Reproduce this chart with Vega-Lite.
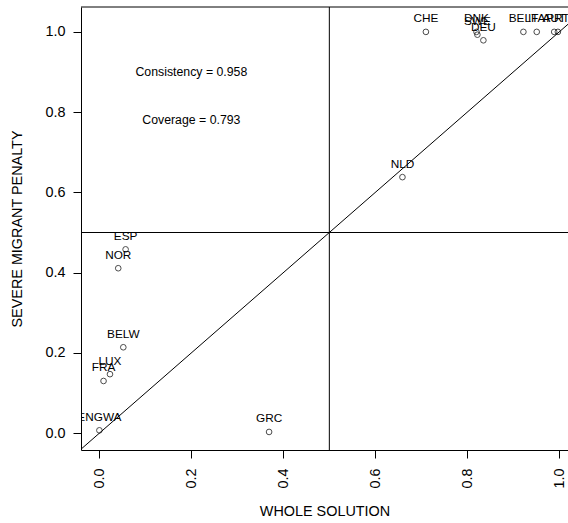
{
  "$schema": "https://vega.github.io/schema/vega-lite/v6.json",
  "width": 487,
  "height": 443,
  "autosize": {"type": "none"},
  "padding": {"left": 81, "top": 7, "right": 0, "bottom": 73},
  "background": "white",
  "config": {
    "view": {"stroke": null},
    "font": "Liberation Sans",
    "axis": {
      "grid": false,
      "domainColor": "black",
      "tickColor": "black",
      "tickSize": 8,
      "labelFont": "Liberation Sans",
      "labelFontSize": 14.4,
      "labelColor": "black",
      "titleFont": "Liberation Sans",
      "titleFontSize": 14.4,
      "titleFontWeight": "normal",
      "titleColor": "black",
      "labelOverlap": false,
      "labelFlush": false
    }
  },
  "datasets": {
    "cases": [
      {"case": "CHE", "x": 0.71, "y": 1.0},
      {"case": "DNK", "x": 0.820, "y": 1.0},
      {"case": "SWE", "x": 0.822, "y": 0.993},
      {"case": "DEU", "x": 0.835, "y": 0.979},
      {"case": "BELF", "x": 0.922, "y": 1.0},
      {"case": "ITA", "x": 0.951, "y": 1.0},
      {"case": "AUT", "x": 0.989, "y": 1.0},
      {"case": "PRT", "x": 0.997, "y": 1.0},
      {"case": "NLD", "x": 0.659, "y": 0.638},
      {"case": "ESP", "x": 0.057, "y": 0.458},
      {"case": "NOR", "x": 0.041, "y": 0.411},
      {"case": "BELW", "x": 0.052, "y": 0.214},
      {"case": "LUX", "x": 0.023, "y": 0.147},
      {"case": "FRA", "x": 0.009, "y": 0.130},
      {"case": "ENGWA", "x": 0.0, "y": 0.007},
      {"case": "GRC", "x": 0.369, "y": 0.003}
    ],
    "diag": [
      {"x": -0.04, "y": -0.04},
      {"x": 1.02, "y": 1.02}
    ],
    "notes": [
      {"x": 0.2, "y": 0.901, "label": "Consistency = 0.958"},
      {"x": 0.2, "y": 0.781, "label": "Coverage = 0.793"}
    ]
  },
  "layer": [
    {
      "data": {"name": "cases"},
      "mark": {"type": "point", "shape": "circle", "filled": false, "size": 32, "strokeWidth": 1, "color": "black", "clip": true},
      "encoding": {
        "x": {
          "field": "x", "type": "quantitative",
          "scale": {"domain": [-0.04, 1.019], "nice": false, "zero": false},
          "axis": {"title": "WHOLE SOLUTION", "values": [0, 0.2, 0.4, 0.6, 0.8, 1.0], "format": ".1f", "labelAngle": 270, "labelPadding": 10, "titlePadding": 16}
        },
        "y": {
          "field": "y", "type": "quantitative",
          "scale": {"domain": [-0.042, 1.062], "nice": false, "zero": false},
          "axis": {"title": "SEVERE MIGRANT PENALTY", "values": [0, 0.2, 0.4, 0.6, 0.8, 1.0], "format": ".1f", "labelAngle": 0, "labelPadding": 8, "titlePadding": 20}
        }
      }
    },
    {
      "data": {"name": "cases"},
      "mark": {"type": "text", "fontSize": 11.8, "color": "black", "baseline": "middle", "align": "center", "dy": -13.5, "clip": true},
      "encoding": {
        "x": {"field": "x", "type": "quantitative", "title": "WHOLE SOLUTION"},
        "y": {"field": "y", "type": "quantitative", "title": "SEVERE MIGRANT PENALTY"},
        "text": {"field": "case"}
      }
    },
    {
      "data": {"name": "diag"},
      "mark": {"type": "line", "color": "black", "strokeWidth": 1, "clip": true},
      "encoding": {
        "x": {"field": "x", "type": "quantitative", "title": "WHOLE SOLUTION"},
        "y": {"field": "y", "type": "quantitative", "title": "SEVERE MIGRANT PENALTY"}
      }
    },
    {
      "data": {"values": [{}]},
      "mark": {"type": "rule", "color": "black", "strokeWidth": 1},
      "encoding": {"x": {"datum": 0.5, "type": "quantitative"}}
    },
    {
      "data": {"values": [{}]},
      "mark": {"type": "rule", "color": "black", "strokeWidth": 1},
      "encoding": {"y": {"datum": 0.5, "type": "quantitative"}}
    },
    {
      "data": {"values": [{}]},
      "mark": {"type": "rule", "color": "black", "strokeWidth": 1},
      "encoding": {"y": {"datum": 1.062, "type": "quantitative"}}
    },
    {
      "data": {"name": "notes"},
      "mark": {"type": "text", "fontSize": 12.3, "color": "black", "baseline": "middle", "align": "center"},
      "encoding": {
        "x": {"field": "x", "type": "quantitative", "title": "WHOLE SOLUTION"},
        "y": {"field": "y", "type": "quantitative", "title": "SEVERE MIGRANT PENALTY"},
        "text": {"field": "label"}
      }
    }
  ]
}
